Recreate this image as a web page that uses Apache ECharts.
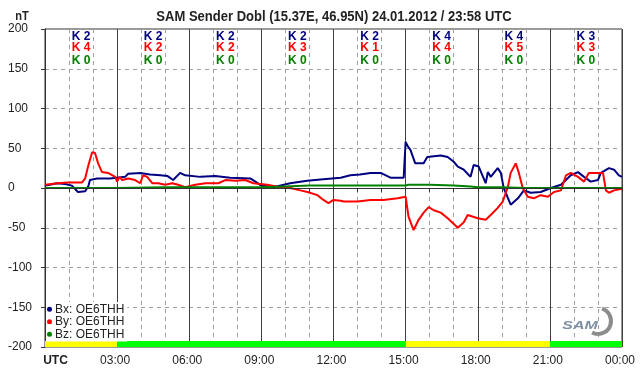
<!DOCTYPE html>
<html>
<head>
<meta charset="utf-8">
<script src="https://cdn.jsdelivr.net/npm/echarts@6/dist/echarts.min.js"></script>
<style>html,body{margin:0;padding:0;background:#fff}#c{width:642px;height:376px}</style>
</head>
<body>
<div id="c"></div>
<script>
// ---- data (time in hours UTC, value in nT) ----
var bxTime = [0,0.2,0.5,0.83,1.12,1.37,1.67,1.8,1.87,2.17,2.7,3,3.33,3.46,3.96,4.37,4.8,5.1,5.33,5.62,5.83,6.46,7.08,7.7,8.54,8.75,9,9.5,10.2,10.9,11.58,12.3,12.7,13.1,13.54,13.96,14.37,14.92,15,15.1,15.2,15.4,15.6,15.75,15.9,16.46,16.75,17,17.17,17.42,17.7,17.83,18.04,18.33,18.42,18.54,18.83,18.96,19.08,19.37,19.67,19.92,20.2,20.62,21.04,21.46,21.87,22.17,22.42,22.7,23,23.12,23.46,23.67,23.87,24];
var bxVal  = [3,4,6,5,3,-5,-4,2,10,12,12,13,14,18,19,17,16,15,10,19,16,14,15,13,12,8,3,1,6,9,11,13,16,17,19,19,13,13,58,52,48,31,31,31,39,41,39,33,27,23,14,29,27,6,20,14,25,19,0,-21,-13,-3,-6,-5,0,4,16,20,14,8,10,19,25,23,16,14];
var byTime = [0,0.54,0.96,1.54,1.67,1.79,1.96,2.08,2.21,2.37,2.62,2.92,3,3.1,3.21,3.46,3.75,3.96,4.08,4.25,4.46,4.71,5,5.29,5.54,5.83,6.25,6.67,7.21,7.5,7.92,8.33,8.67,9.25,9.79,10.2,10.62,10.92,11.33,11.58,11.79,12,12.3,12.42,13,13.54,14.08,14.67,15,15.12,15.33,15.54,15.75,15.96,16.17,16.46,16.75,17.17,17.42,17.58,18,18.33,18.54,18.83,19.04,19.25,19.37,19.58,19.71,19.87,20.08,20.33,20.62,20.92,21.17,21.46,21.67,21.87,22.17,22.42,22.62,23,23.21,23.33,23.46,23.67,24];
var byVal  = [4,6,7,7,12,27,45,44,31,20,19,14,8,14,10,12,10,6,16,14,6,6,4,6,4,1,4,6,6,10,9,10,6,4,1,0,-3,-5,-9,-15,-19,-15,-16,-17,-17,-15,-15,-13,-11,-36,-53,-40,-31,-24,-28,-31,-38,-50,-43,-34,-38,-40,-34,-25,-17,1,19,31,19,0,-11,-13,-9,-11,-5,-3,16,19,14,8,19,19,19,-3,-6,-3,-1];
var bzTime = [0,3,5,6,8,9,10,11,12,14,15,15.1,16,17,17.7,18,19,20,22,24];
var bzVal  = [0,0,1,1,1,1,2,3,3,3,3,4,4,3,2,1,1,0,0,0];
var seriesNames = ['Bx: OE6THH','By: OE6THH','Bz: OE6THH'];
var kX = [2,2,2,2,2,4,4,3];
var kY = [4,2,2,3,1,4,5,3];
var kZ = [0,0,0,0,0,0,0,0];
var xTickLabels = ['UTC','03:00','06:00','09:00','12:00','15:00','18:00','21:00','00:00'];
var yTicks = [-200,-150,-100,-50,0,50,100,150,200];
var bandStart = [0,3,15,21];
var bandEnd   = [3,15,21,24];
var bandColor = ['#ffff00','#00ff00','#ffff00','#00ff00'];

function zip(t,v){return t.map(function(x,i){return [x,v[i]];});}
function kData(arr,row){return arr.map(function(k,i){return [i*3+1.5,row,k];});}

var FONT = '"Liberation Sans", Arial, sans-serif';
var chart = echarts.init(document.getElementById('c'), null, {renderer:'canvas'});

function kSeries(arr,row,color){
  return {type:'custom', data:kData(arr,row), silent:true, z:5,
    renderItem:function(params, api){
      var p = api.coord([api.value(0), api.value(1)]);
      return {type:'text', x:p[0], y:p[1], style:{text:'K '+api.value(2), fill:color, align:'center', verticalAlign:'middle',
        font:'bold 12px "Liberation Sans", Arial, sans-serif'}};
    }};
}

var option = {
  animation:false,
  backgroundColor:'#fff',
  grid:{left:45, top:29, width:577, height:318, show:true, borderColor:'#333', borderWidth:1, backgroundColor:'transparent'},
  legend:{data:seriesNames, orient:'vertical', left:46, top:302, itemGap:0, itemWidth:5, itemHeight:5, icon:'circle',
    padding:[1,3,1,1], backgroundColor:'#fff',
    textStyle:{fontFamily:FONT, fontSize:12, color:'#222', lineHeight:12.5, padding:[0,0,0,-2]}},
  xAxis:{type:'value', min:0, max:24, interval:3,
    axisLine:{show:true, lineStyle:{color:'#333'}},
    axisTick:{show:true, length:4, lineStyle:{color:'#333'}},
    minorTick:{show:true, splitNumber:3, length:4, lineStyle:{color:'#333'}},
    splitLine:{show:true, lineStyle:{color:'#404040', width:1}},
    minorSplitLine:{show:true, lineStyle:{color:'#a0a0a0', type:[4,4]}},
    axisLabel:{margin:8, color:'#222', fontFamily:FONT, fontSize:12, padding:[0,4,0,0],
      formatter:function(v){var s=xTickLabels[Math.round(v/3)]; return v===0?'{u|'+s+'}':s;},
      rich:{u:{fontWeight:'bold', fontFamily:FONT, fontSize:12, color:'#222', padding:[0,0,0,25]}}}},
  yAxis:{type:'value', min:yTicks[0], max:yTicks[yTicks.length-1], interval:50,
    axisLine:{show:true, lineStyle:{color:'#333'}},
    axisTick:{show:true, length:4, lineStyle:{color:'#333'}},
    splitLine:{show:true, lineStyle:{color:'#a0a0a0', type:[4,4]}},
    axisLabel:{align:'left', margin:37, color:'#222', fontFamily:FONT, fontSize:12}},
  graphic:[
    {type:'text', x:334, y:17, scaleX:0.93, z:20,
      style:{text:'SAM Sender Dobl (15.37E, 46.95N) 24.01.2012 / 23:58 UTC', align:'center', verticalAlign:'middle',
        fontFamily:FONT, fontWeight:'bold', fontSize:14, fill:'#222'}},
    {type:'text', x:22, y:16, scaleX:0.85, z:20,
      style:{text:'nT', align:'center', verticalAlign:'middle', fontFamily:FONT, fontWeight:'bold', fontSize:13, fill:'#222'}},
    {type:'arc', shape:{cx:598, cy:321, r:13, startAngle:-Math.PI*0.4, endAngle:Math.PI*0.65}, style:{stroke:'#8c8c8c', lineWidth:4, fill:null}, z:10},
    {type:'text', x:580, y:326, scaleX:1.45, z:11,
      style:{text:'SAM', align:'center', verticalAlign:'middle', fontFamily:FONT, fontStyle:'italic', fontWeight:'bold', fontSize:11, fill:'#7d8ea5'}}
  ],
  series:[
    {name:seriesNames[0], type:'line', data:zip(bxTime,bxVal), showSymbol:false, symbol:'circle', color:'#000080',
      lineStyle:{width:2, color:'#000080'}, z:2,
      markLine:{silent:true, symbol:'none', label:{show:false}, lineStyle:{color:'#333', type:'solid', width:1}, data:[{yAxis:0}]}},
    {name:seriesNames[1], type:'line', data:zip(byTime,byVal), showSymbol:false, symbol:'circle', color:'#ff0000',
      lineStyle:{width:2, color:'#ff0000'}, z:3},
    {name:seriesNames[2], type:'line', data:zip(bzTime,bzVal), showSymbol:false, symbol:'circle', color:'#008000',
      lineStyle:{width:2, color:'#008000'}, z:4,
      markArea:{silent:true, data:bandStart.map(function(s,i){
        return [{xAxis:s, yAxis:-200, itemStyle:{color:bandColor[i], opacity:1}},{xAxis:bandEnd[i], yAxis:-192.5}];})}},
    kSeries(kX,190.5,'#000080'),
    kSeries(kY,176,'#ff0000'),
    kSeries(kZ,160,'#008000')
  ]
};
chart.setOption(option);
</script>
</body>
</html>
